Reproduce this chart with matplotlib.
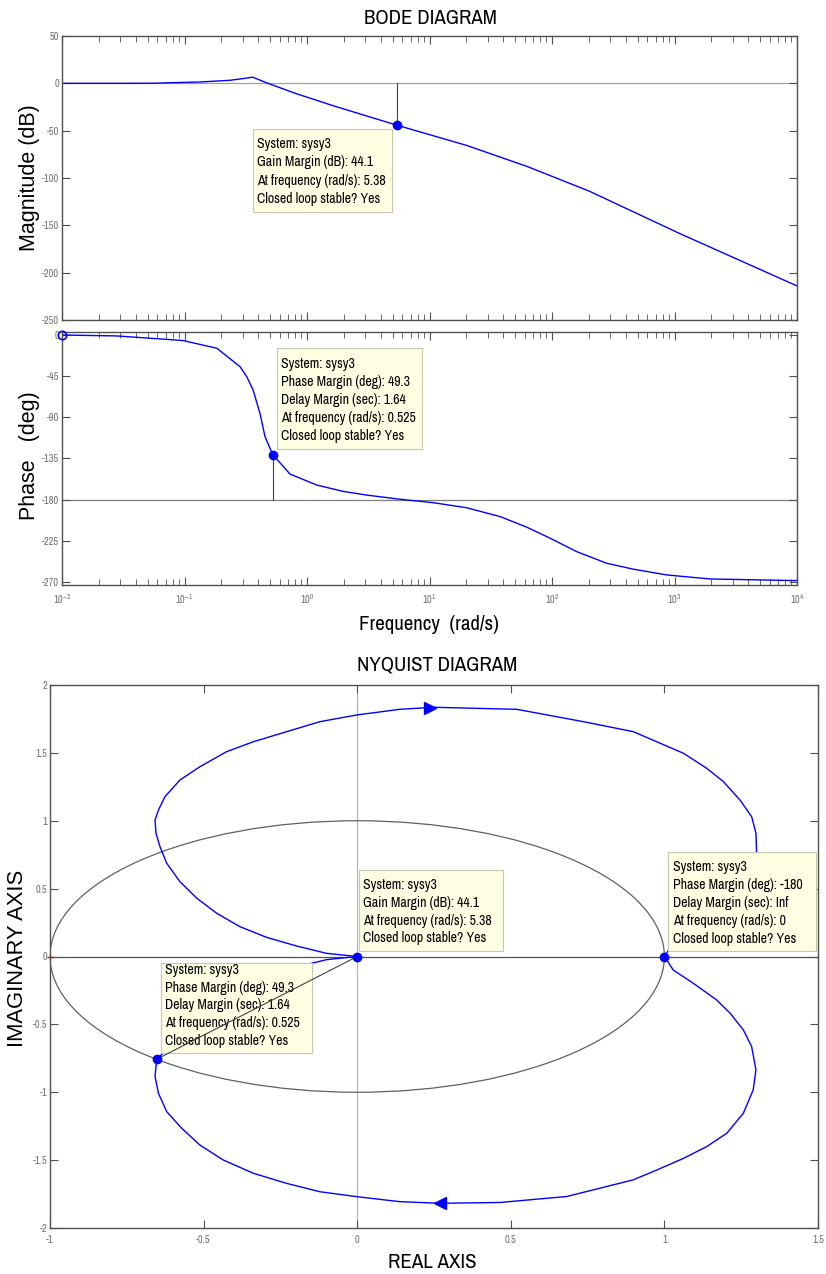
import matplotlib.pyplot as plt
from matplotlib import font_manager
from matplotlib.patches import Circle, Rectangle
from matplotlib.ticker import (LogLocator, NullFormatter, MultipleLocator, FuncFormatter,
                               FixedLocator)
import numpy as np

# pick a narrow sans font if one is installed (MATLAB figure uses Arial Narrow look)
narrow_name, narrow_stretch, shrink = None, 'normal', 1.0
for f in font_manager.fontManager.ttflist:
    if f.style != 'normal' or f.weight not in (400, 'normal', 'regular'):
        continue
    if 'Narrow' in f.name or 'Condensed' in f.name:
        narrow_name = f.name
        break
if narrow_name is None:
    for f in font_manager.fontManager.ttflist:
        if f.stretch in ('condensed', 'semi-condensed') and f.style == 'normal' \
                and f.weight in (400, 'normal', 'regular'):
            narrow_name, narrow_stretch = f.name, f.stretch
            break
if narrow_name is None:
    narrow_name, shrink = 'Liberation Sans', 0.82

NARROW = [narrow_name, 'Liberation Sans', 'DejaVu Sans']
WIDE = ['Liberation Sans', 'DejaVu Sans']
plt.rcParams['font.family'] = NARROW
plt.rcParams['font.stretch'] = narrow_stretch
plt.rcParams['axes.unicode_minus'] = False

# Bode magnitude
mag_freq = [0.01, 0.03, 0.057, 0.08, 0.133, 0.235, 0.3, 0.36, 0.48, 0.8, 1.63,
            5.38, 20, 62, 200, 1100, 10000]
mag_db = [0, 0, 0.1, 0.7, 1.4, 3.2, 5.0, 6.5, 0, -10.5, -23.6,
          -44.1, -65.5, -87.6, -113.7, -158.6, -214]

# Bode phase
ph_freq = [0.01, 0.028, 0.097, 0.184, 0.284, 0.322, 0.363, 0.413, 0.454, 0.525,
           0.726, 1.2, 1.98, 3.07, 5.7, 10.7, 20, 37.7, 62, 96, 159, 279, 461,
           863, 1950, 10000]
ph_deg = [0, -1, -6, -14.5, -34.6, -45.5, -60, -85.6, -111, -130.7,
          -152, -164, -171, -175, -179.5, -183.3, -188.8, -198.5, -210, -222,
          -236.8, -249.5, -256, -262.3, -266.7, -268.5]
decades = [1e-2, 1e-1, 1e0, 1e1, 1e2, 1e3, 1e4]

gm_freq, gm_db = 5.38, -44.1
pm_freq, pm_deg = 0.525, -130.7

# Nyquist, branch for w: 0 -> inf (lower half)
low_re = [1.0, 1.029, 1.094, 1.17, 1.214, 1.257, 1.284, 1.298, 1.289, 1.257, 1.203,
          1.138, 1.062, 0.975, 0.899, 0.682, 0.465, 0.27, 0.139, -0.002, -0.121,
          -0.23, -0.338, -0.436, -0.512, -0.571, -0.62, -0.647, -0.658, -0.653,
          -0.62, -0.577, -0.522, -0.457, -0.382, -0.295, -0.197, -0.099, 0.0]
low_im = [0.0, -0.1, -0.197, -0.32, -0.418, -0.541, -0.664, -0.836, -0.983, -1.155,
          -1.302, -1.4, -1.487, -1.573, -1.645, -1.768, -1.812, -1.818, -1.806,
          -1.769, -1.733, -1.671, -1.597, -1.499, -1.389, -1.266, -1.143, -1.008,
          -0.885, -0.757, -0.687, -0.551, -0.429, -0.318, -0.22, -0.141, -0.077,
          -0.023, 0.0]
# branch for negative frequencies (upper half)
up_re = [0.0, -0.099, -0.197, -0.295, -0.382, -0.457, -0.522, -0.577, -0.62, -0.642,
         -0.655, -0.658, -0.647, -0.626, -0.577, -0.512, -0.425, -0.338, -0.23,
         -0.121, -0.002, 0.139, 0.248, 0.519, 0.736, 0.899, 1.062, 1.138, 1.192,
         1.246, 1.284, 1.298, 1.3, 1.284, 1.257, 1.214, 1.17, 1.094, 1.029, 1.0]
up_im = [0.0, 0.023, 0.077, 0.141, 0.22, 0.318, 0.429, 0.551, 0.687, 0.809, 0.908,
         1.006, 1.079, 1.177, 1.3, 1.398, 1.509, 1.582, 1.656, 1.73, 1.779, 1.821,
         1.836, 1.821, 1.73, 1.656, 1.497, 1.386, 1.288, 1.153, 1.03, 0.908, 0.772,
         0.664, 0.541, 0.418, 0.32, 0.197, 0.1, 0.0]
pm_point = (-0.653, -0.757)
gm_point = (0.0, 0.0)
w0_point = (1.0, 0.0)
arrow_up = (0.237, 1.834)
arrow_low = (0.27, -1.818)

mag_tip = ['System: sysy3', 'Gain Margin (dB): 44.1',
           'At frequency (rad/s): 5.38', 'Closed loop stable? Yes']
ph_tip = ['System: sysy3', 'Phase Margin (deg): 49.3', 'Delay Margin (sec): 1.64',
          'At frequency (rad/s): 0.525', 'Closed loop stable? Yes']
w0_tip = ['System: sysy3', 'Phase Margin (deg): -180', 'Delay Margin (sec): Inf',
          'At frequency (rad/s): 0', 'Closed loop stable? Yes']

W, H = 826, 1274
fig = plt.figure(figsize=(W / 100, H / 100), dpi=100)

TICK_FS = 7.5 * shrink
TIP_FS = 10 * shrink
HEAD_FS = 15 * shrink


def fx(x):
    return x / W


def fy(y):
    return 1 - y / H


plain = FuncFormatter(lambda v, p: '%g' % (v + 0.0))


def style(ax, logx=False):
    for s in ax.spines.values():
        s.set_color('#505050')
        s.set_linewidth(1.0)
    ax.tick_params(which='both', direction='in', top=True, right=True,
                   colors='#505050', labelcolor='#707070', labelsize=TICK_FS, pad=2)
    ax.tick_params(which='major', length=6)
    ax.tick_params(which='minor', length=4)
    ax.yaxis.set_major_formatter(plain)
    if logx:
        ax.set_xscale('log')
        ax.set_xlim(1e-2, 1e4)
        ax.xaxis.set_major_locator(FixedLocator(decades))
        ax.xaxis.set_minor_locator(LogLocator(base=10, subs=np.arange(2, 10), numticks=20))
        ax.xaxis.set_minor_formatter(NullFormatter())
    else:
        ax.xaxis.set_major_formatter(plain)


def tip(ax, box, lines, x_text, y_first, step):
    x0, y0, x1, y1 = box
    ax.add_artist(Rectangle((fx(x0), fy(y1)), fx(x1) - fx(x0), (y1 - y0) / H,
                            transform=fig.transFigure, facecolor='#FFFFE4',
                            edgecolor='#C8C8B0', linewidth=0.8, zorder=3, clip_on=False))
    for i, t in enumerate(lines):
        ax.text(fx(x_text), fy(y_first + i * step), t, transform=fig.transFigure,
                ha='left', va='center', fontsize=TIP_FS, color='black', zorder=4)


# ---- Bode magnitude ----
ax_mag = fig.add_axes([fx(62), fy(320), (797 - 62) / W, 284 / H])
style(ax_mag, logx=True)
ax_mag.set_ylim(-250, 50)
ax_mag.yaxis.set_major_locator(MultipleLocator(50))
ax_mag.tick_params(axis='x', which='both', labelbottom=False)
ax_mag.axhline(0, color='#a0a0a0', lw=0.9, zorder=1)
ax_mag.plot(mag_freq, mag_db, color='#0000FF', lw=1.0, zorder=2)
ax_mag.plot([gm_freq, gm_freq], [0, gm_db], color='#404040', lw=0.8, zorder=1)
ax_mag.plot(gm_freq, gm_db, 'o', color='#0000FF', ms=6, zorder=5)
tip(ax_mag, (253, 129, 392, 212), mag_tip, 257, 144, 18.3)

# ---- Bode phase ----
ax_ph = fig.add_axes([fx(62), fy(585), (797 - 62) / W, 253 / H])
style(ax_ph, logx=True)
ax_ph.set_ylim(-273.3, 3.3)
ax_ph.set_yticks([0, -45, -90, -135, -180, -225, -270])
ax_ph.tick_params(axis='x', which='major', pad=5)
ax_ph.axhline(-180, color='#808080', lw=0.9, zorder=1)
ax_ph.plot(ph_freq, ph_deg, color='#0000FF', lw=1.0, zorder=2)
ax_ph.plot([pm_freq, pm_freq], [-180, pm_deg], color='#404040', lw=0.8, zorder=1)
ax_ph.plot(pm_freq, pm_deg, 'o', color='#0000FF', ms=6, zorder=5)
ax_ph.plot(ph_freq[0], ph_deg[0], 'o', mfc='none', mec='#0000FF', ms=6, mew=1.2,
           zorder=5, clip_on=False)
tip(ax_ph, (277, 348, 422, 449), ph_tip, 281, 364, 18)

fig.text(fx(430), fy(18), 'BODE DIAGRAM', ha='center', va='center', fontsize=HEAD_FS)
fig.text(fx(429), fy(624), 'Frequency  (rad/s)', ha='center', va='center', fontsize=HEAD_FS)
fig.text(fx(30), fy(178), 'Magnitude (dB)', ha='center', va='center', rotation=90,
         fontsize=15.5, family=WIDE, stretch='normal')
fig.text(fx(30), fy(456), 'Phase   (deg)', ha='center', va='center', rotation=90,
         fontsize=15.5, family=WIDE, stretch='normal')

# ---- Nyquist ----
ax_ny = fig.add_axes([fx(50), fy(1228), (818 - 50) / W, 543 / H])
style(ax_ny)
ax_ny.set_xlim(-1, 1.5)
ax_ny.set_ylim(-2, 2)
ax_ny.xaxis.set_major_locator(MultipleLocator(0.5))
ax_ny.yaxis.set_major_locator(MultipleLocator(0.5))
ax_ny.tick_params(axis='x', pad=5)
ax_ny.axhline(0, color='#505050', lw=0.9, zorder=1)
ax_ny.axvline(0, color='#b0b0b0', lw=0.8, zorder=1)
ax_ny.add_patch(Circle((0, 0), 1, fill=False, edgecolor='#606060', lw=0.9, zorder=1))
ax_ny.plot(low_re, low_im, color='#0000FF', lw=1.0, zorder=2)
ax_ny.plot(up_re, up_im, color='#0000FF', lw=1.0, zorder=2)
ax_ny.plot(*arrow_up, '>', color='#0000FF', ms=9, zorder=2)
ax_ny.plot(*arrow_low, '<', color='#0000FF', ms=9, zorder=2)
ax_ny.plot(-1, 0, '+', color='red', ms=5, mew=1, zorder=2, clip_on=False)
ax_ny.plot([0, pm_point[0]], [0, pm_point[1]], color='#404040', lw=0.8, zorder=5)
for p in (pm_point, gm_point, w0_point):
    ax_ny.plot(p[0], p[1], 'o', color='#0000FF', ms=6, zorder=6)
tip(ax_ny, (359, 870, 503, 951), mag_tip, 363, 885, 17.8)
tip(ax_ny, (668, 852, 816, 951), w0_tip, 673, 867, 17.9)
tip(ax_ny, (161, 963, 312, 1053), ph_tip, 165, 970, 17.7)

fig.text(fx(437), fy(665), 'NYQUIST DIAGRAM', ha='center', va='center', fontsize=HEAD_FS)
fig.text(fx(432), fy(1262), 'REAL AXIS', ha='center', va='center', fontsize=HEAD_FS)
fig.text(fx(18), fy(958), 'IMAGINARY AXIS', ha='center', va='center', rotation=90,
         fontsize=15.8, family=WIDE, stretch='normal')

fig.savefig('out.png', dpi=100)
